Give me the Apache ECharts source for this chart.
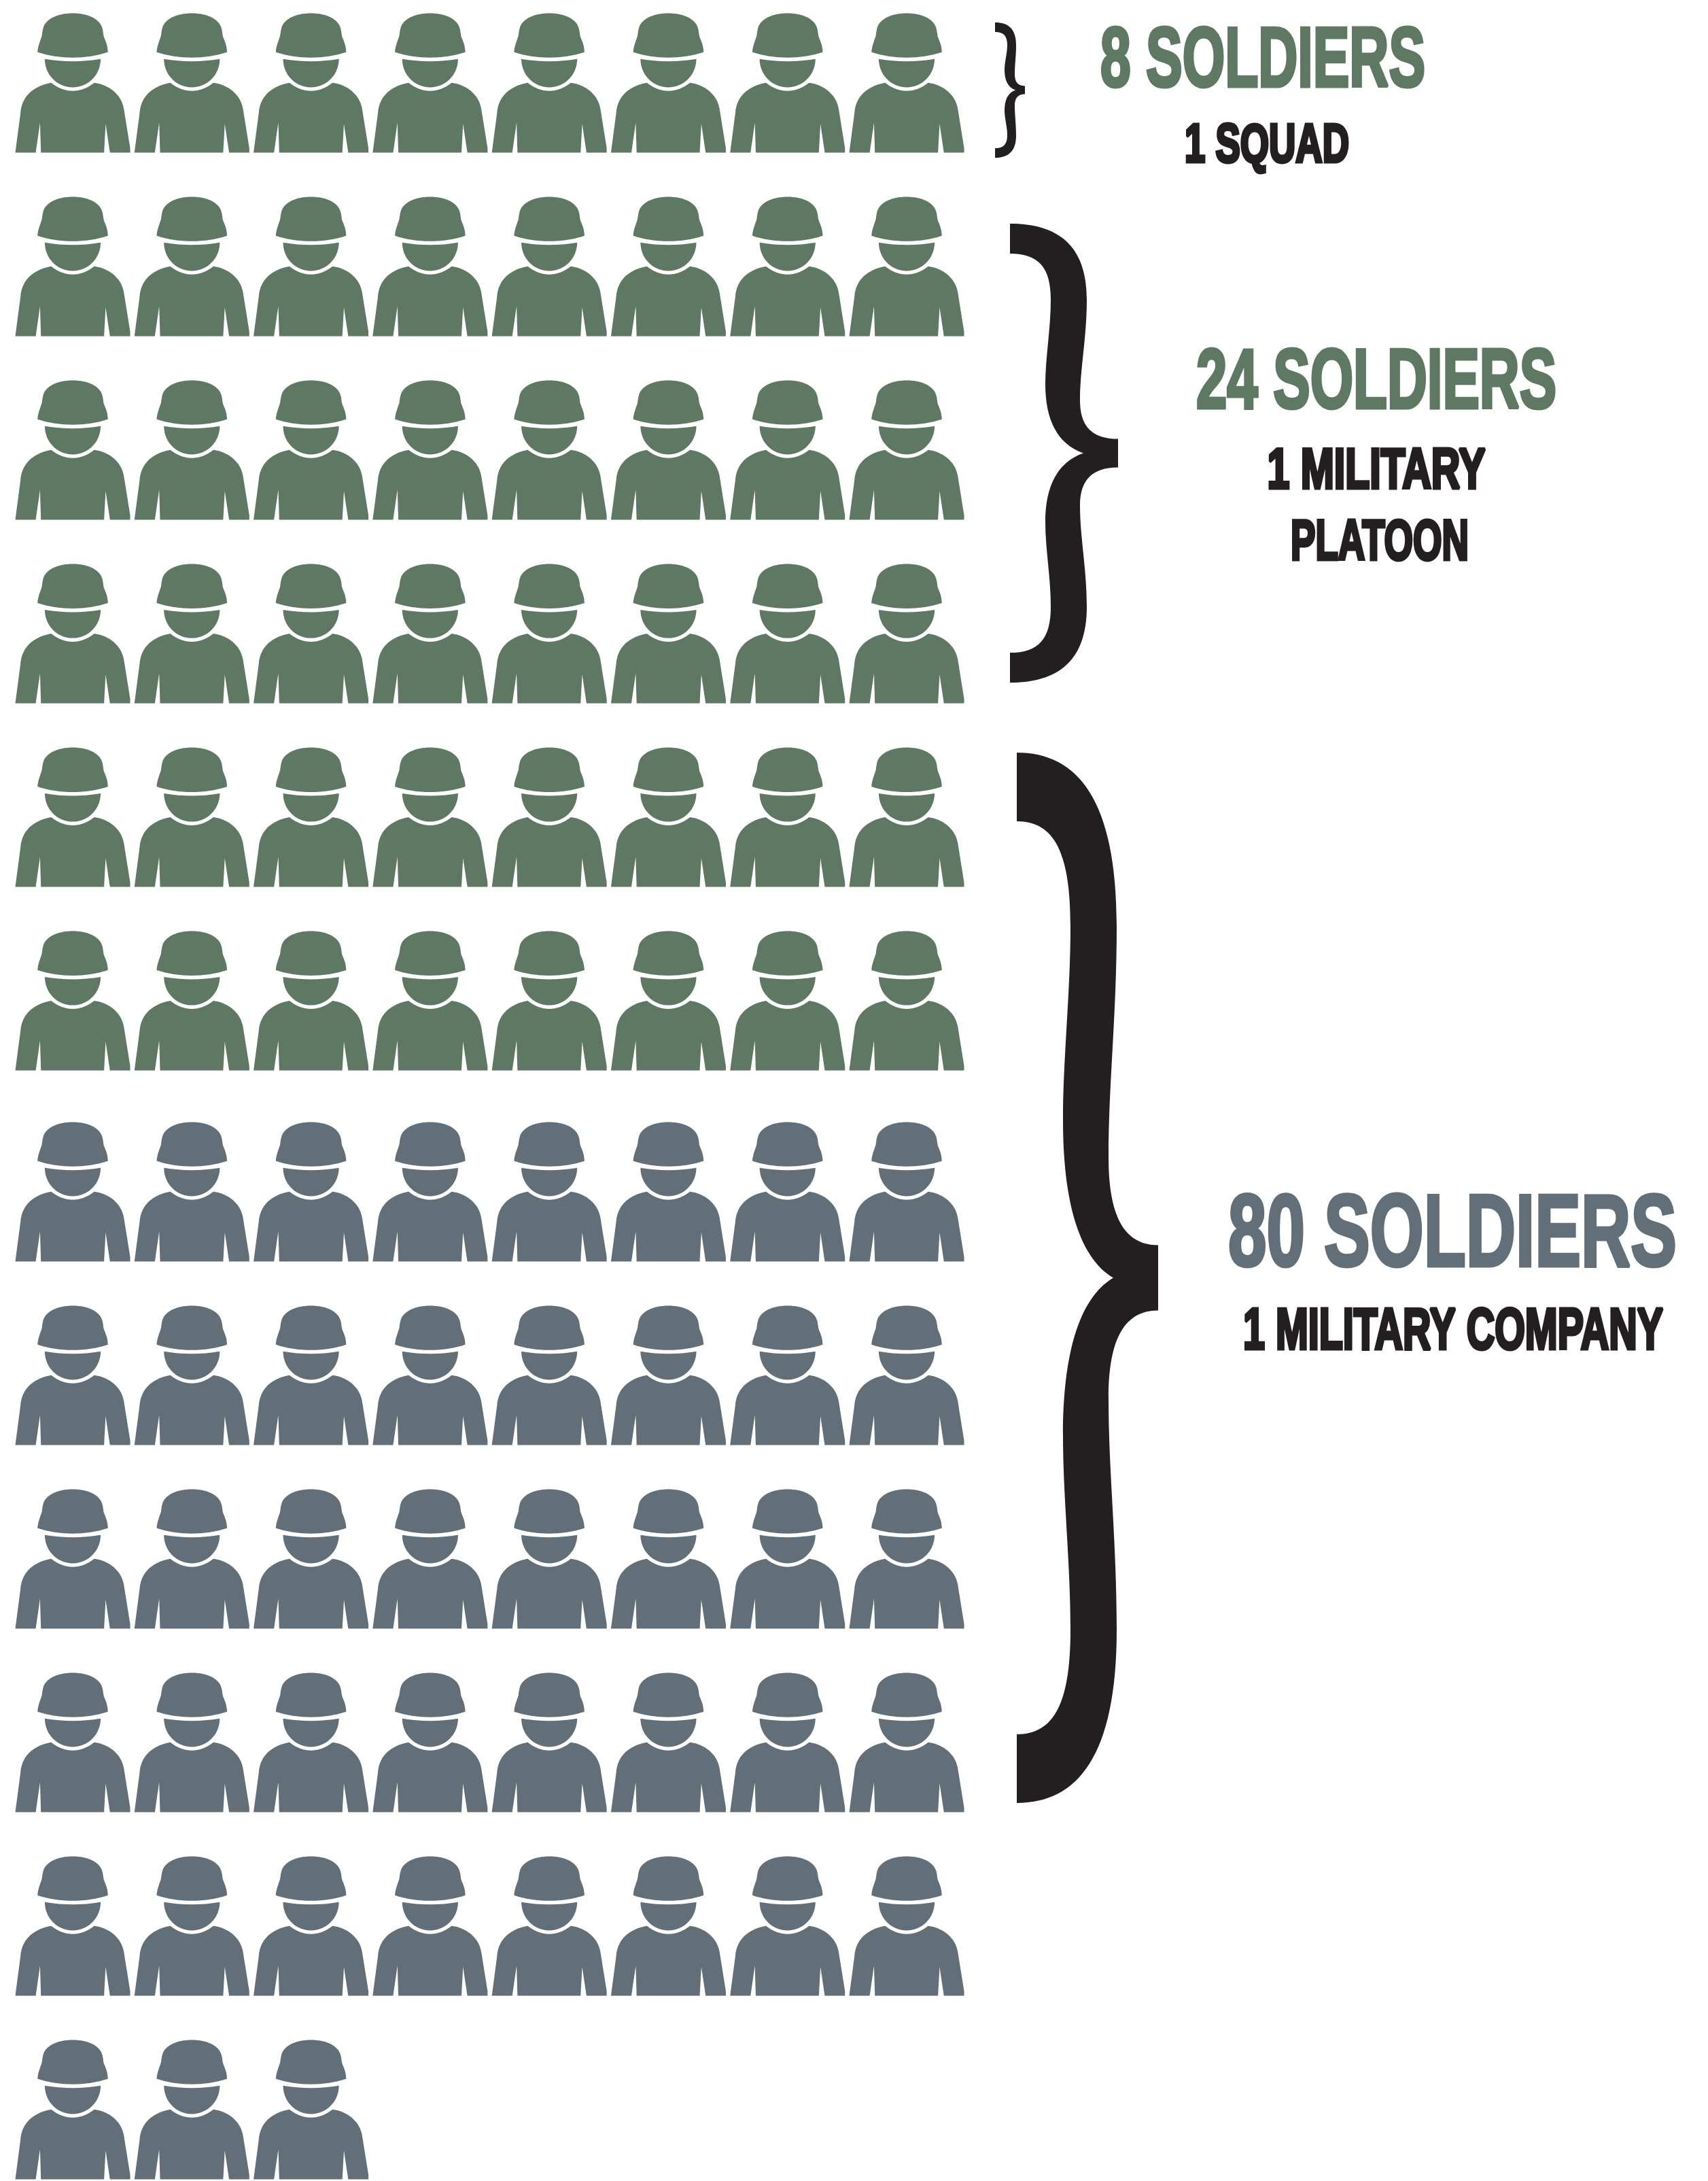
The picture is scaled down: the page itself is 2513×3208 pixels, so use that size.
<!DOCTYPE html>
<html>
<head>
<meta charset="utf-8">
<style>html,body{margin:0;padding:0;background:#fff}#main{width:2513px;height:3208px}</style>
<script src="https://cdn.jsdelivr.net/npm/echarts@6/dist/echarts.min.js"></script>
</head>
<body>
<div id="main"></div>
<script>
// soldiers per row, top to bottom
var rowCounts = [8, 8, 8, 8, 8, 8, 8, 8, 8, 8, 8, 3];
var rowGroups = ['green', 'green', 'green', 'green', 'green', 'green', 'grey', 'grey', 'grey', 'grey', 'grey', 'grey'];
// row position on the y axis, there is a slightly wider gap before the grey rows
var rowPositions = [0, 1, 2, 3, 4, 5, 6.04, 7.04, 8.04, 9.04, 10.04, 11.04];
var groupColors = { green: '#5e7864', grey: '#626f79' };
var inkColor = '#231f20';

var labelTexts = ['8 SOLDIERS', '1 SQUAD', '24 SOLDIERS', '1 MILITARY', 'PLATOON', '80 SOLDIERS', '1 MILITARY COMPANY'];

var soldierPath = 'path://' +
    // helmet
    'M165 232C166 205 178 180 184 160C186 145 187 135 190 125C200 85 255 60 320 60C385 60 440 85 450 125C453 135 454 145 456 160C462 180 474 195 475 232C380 264 260 264 165 232Z' +
    // head
    'M197 262C280 276 360 276 443 262C443 330 390 387 320 387C250 387 197 330 197 262Z' +
    // body
    'M225 367C285 415 355 415 415 367C480 375 535 420 545 480L573 655L573 675L484 675L465 548L458 675L180 675L176 543L157 675L67 675L90 500C95 440 130 385 225 367Z';

var soldierData = { green: [], grey: [] };
for (var r = 0; r < rowCounts.length; r++) {
    for (var c = 0; c < rowCounts[r]; c++) {
        soldierData[rowGroups[r]].push([c, rowPositions[r]]);
    }
}

// builds a curly brace outline, b holds the measured widths of each brace
function bracePath(b) {
    var H = (b.bot - b.top) / 2, mid = b.top + H;
    var outer = [
        [b.x0, b.top],
        [b.x0 + 0.61 * (b.ox - b.x0), b.top], [b.ox, b.top + 0.09 * H], [b.ox, b.top + 0.33 * H],
        [b.ox, b.top + 0.5 * H], [b.wo, b.top + 0.63 * H], [b.wo, b.top + 0.77 * H],
        [b.wo, b.top + 0.88 * H], [b.wo + 0.3 * (b.tip - b.wo), mid - b.tipH], [b.tip, mid - b.tipH]
    ];
    var inner = [
        [b.x0, b.top + b.end],
        [b.x0 + 0.7 * (b.ix - b.x0), b.top + b.end], [b.ix, b.top + b.end + 0.06 * H], [b.ix, b.top + 0.33 * H],
        [b.ix, b.top + 0.46 * H], [b.wi, b.top + 0.58 * H], [b.wi, b.top + 0.7 * H],
        [b.wi, b.top + 0.85 * H], [b.wi + 0.3 * (b.notch - b.wi), b.top + 0.96 * H], [b.notch, mid]
    ];
    function flip(p) { return [p[0], 2 * mid - p[1]]; }
    function curves(pts) {
        var s = '';
        for (var i = 1; i < pts.length; i += 3) {
            s += 'C' + pts[i].join(' ') + ' ' + pts[i + 1].join(' ') + ' ' + pts[i + 2].join(' ');
        }
        return s;
    }
    var d = 'M' + outer[0].join(' ') + curves(outer);
    var outerBack = outer.map(flip).reverse();
    d += 'L' + outerBack[0].join(' ') + curves(outerBack);
    var innerLow = inner.map(flip);
    d += 'L' + innerLow[0].join(' ') + curves(innerLow);
    var innerBack = inner.slice().reverse();
    d += curves(innerBack) + 'Z';
    return d;
}

var braces = [
    { x0: 1464, tip: 1508, top: 33, bot: 232, end: 14, tipH: 6, ox: 1495, wo: 1493, ix: 1482, wi: 1478, notch: 1494 },
    { x0: 1486, tip: 1645, top: 329, bot: 1004, end: 44, tipH: 21, ox: 1599, wo: 1589, ix: 1546, wi: 1538, notch: 1594 },
    { x0: 1496, tip: 1704, top: 1107, bot: 2652, end: 101, tipH: 48, ox: 1643, wo: 1631, ix: 1575, wi: 1564, notch: 1638 }
];

var labelLayout = [
    { cx: 1858, cy: 93, w: 478, size: 124, color: groupColors.green },
    { cx: 1864, cy: 216, w: 242, size: 80, color: inkColor },
    { cx: 2025, cy: 566, w: 530, size: 124, color: groupColors.green },
    { cx: 2025, cy: 695, w: 321, size: 84, color: inkColor },
    { cx: 2030, cy: 800, w: 262, size: 84, color: inkColor },
    { cx: 2137, cy: 1821, w: 660, size: 150, color: groupColors.grey },
    { cx: 2138, cy: 1960, w: 618, size: 86, color: inkColor }
];

var fontFamily = '"Liberation Sans Narrow", "Liberation Sans", sans-serif';
var measure = document.createElement('canvas').getContext('2d');

var graphics = labelTexts.map(function (t, i) {
    var l = labelLayout[i];
    measure.font = 'bold ' + l.size + 'px ' + fontFamily;
    return {
        type: 'text',
        x: l.cx,
        y: l.cy,
        scaleX: l.w / measure.measureText(t).width,
        style: {
            text: t,
            x: 0,
            y: 0,
            fill: l.color,
            stroke: l.color,
            lineWidth: 5,
            font: 'bold ' + l.size + 'px ' + fontFamily,
            textAlign: 'center',
            textVerticalAlign: 'middle'
        }
    };
});

function soldierSeries(name) {
    return {
        name: name,
        type: 'scatter',
        data: soldierData[name],
        symbol: soldierPath,
        symbolSize: [169, 205],
        symbolKeepAspect: false,
        silent: true,
        itemStyle: { color: groupColors[name], opacity: 1 }
    };
}

var chart = echarts.init(document.getElementById('main'));
chart.setOption({
    animation: false,
    backgroundColor: '#ffffff',
    grid: { left: 107, top: 122, width: 1227, height: 2981 },
    xAxis: { type: 'value', min: 0, max: 7, show: false },
    yAxis: { type: 'value', min: 0, max: 11.04, inverse: true, show: false },
    graphic: graphics,
    series: [
        soldierSeries('green'),
        soldierSeries('grey'),
        {
            type: 'custom',
            coordinateSystem: 'none',
            silent: true,
            data: [0, 1, 2],
            renderItem: function (params) {
                var b = braces[params.dataIndex];
                return {
                    type: 'path',
                    shape: {
                        pathData: bracePath(b),
                        x: b.x0,
                        y: b.top,
                        width: b.tip - b.x0,
                        height: b.bot - b.top,
                        layout: 'cover'
                    },
                    style: { fill: inkColor }
                };
            }
        }
    ]
});
</script>
</body>
</html>
